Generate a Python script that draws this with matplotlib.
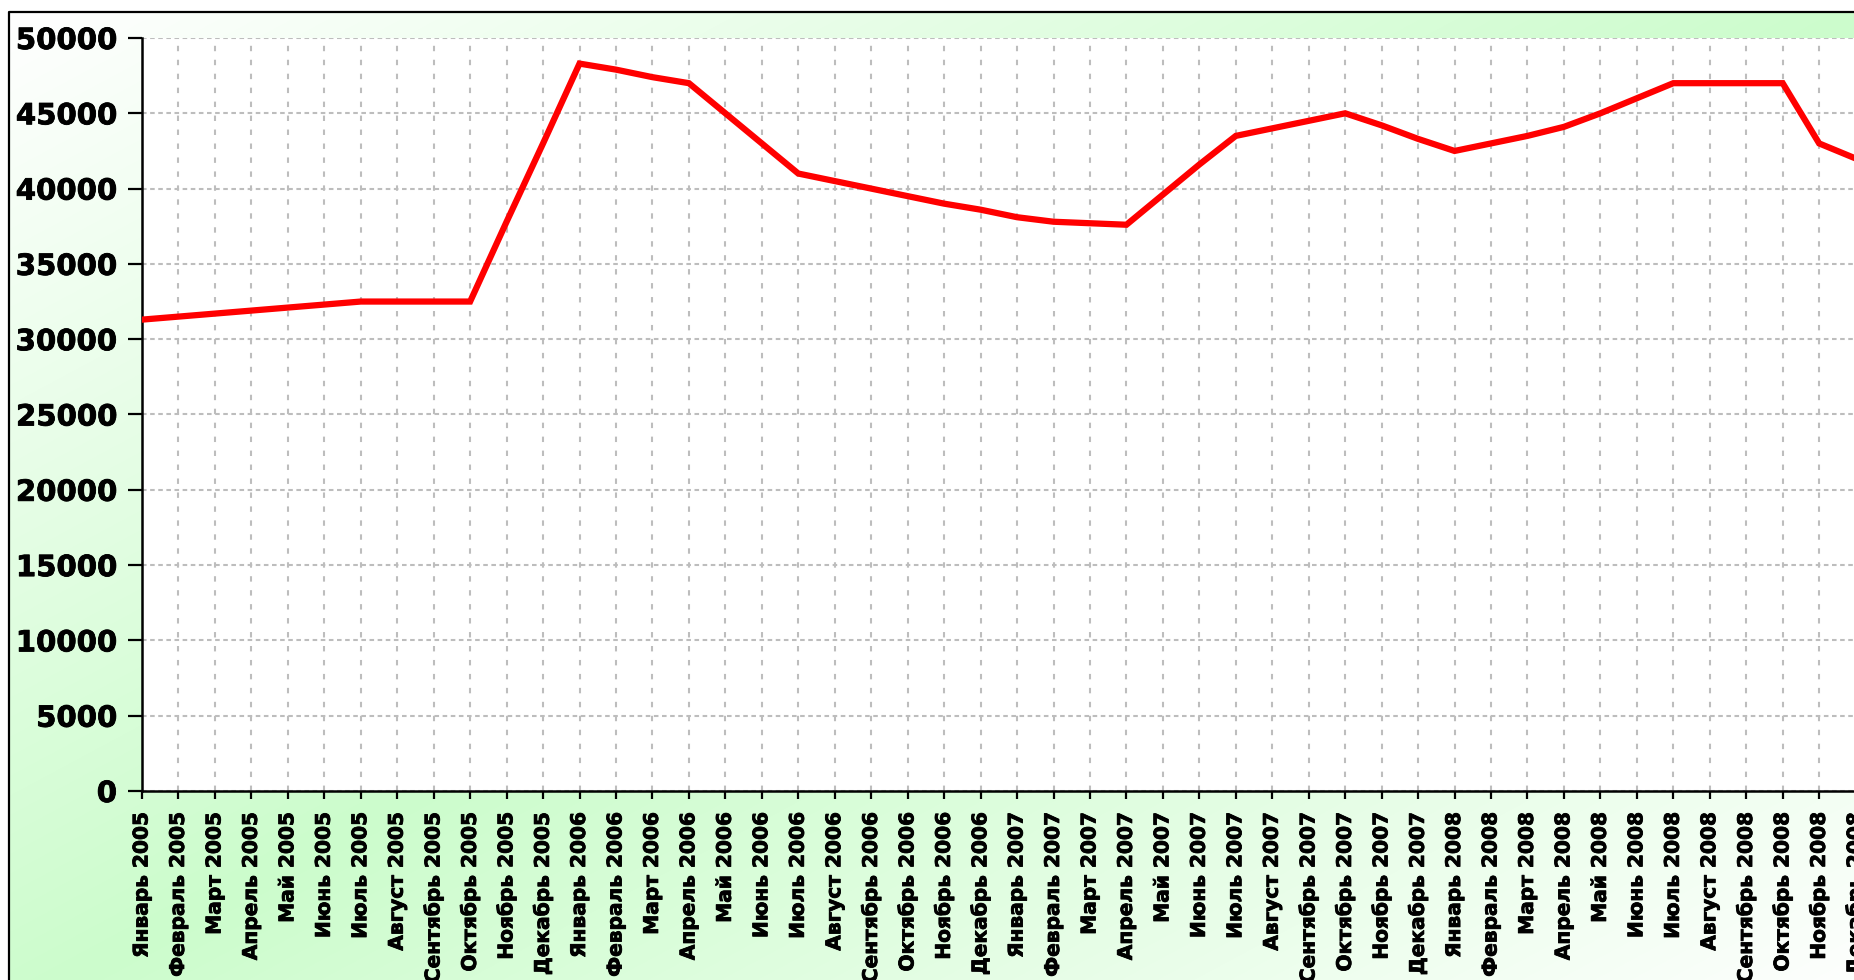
import matplotlib.pyplot as plt
import matplotlib.patheffects as pe
import numpy as np

months = ["Январь", "Февраль", "Март", "Апрель", "Май", "Июнь",
          "Июль", "Август", "Сентябрь", "Октябрь", "Ноябрь", "Декабрь"]
years = [2005, 2006, 2007, 2008]
labels = [f"{m} {y}" for y in years for m in months]

values_2005 = [31300, 31500, 31700, 31900, 32100, 32300,
               32500, 32500, 32500, 32500, 37800, 43000]
values_2006 = [48300, 47900, 47400, 47000, 45000, 43000,
               41000, 40500, 40000, 39500, 39000, 38600]
values_2007 = [38100, 37800, 37700, 37600, 39600, 41600,
               43500, 44000, 44500, 45000, 44200, 43300]
values_2008 = [42500, 43000, 43500, 44100, 45000, 46000,
               47000, 47000, 47000, 47000, 43000, 42000]
values = values_2005 + values_2006 + values_2007 + values_2008

W, H = 1854, 980
fig = plt.figure(figsize=(W / 100, H / 100), dpi=100)
fig.patch.set_facecolor("white")

# background: diagonal green gradient inside a black frame
bg = fig.add_axes([0, 0, 1, 1], zorder=-1)
bg.set_xlim(0, W)
bg.set_ylim(H, 0)
bg.axis("off")
fx0, fy0 = 9.5, 12
fw, fh = 1860, 1000
gx = np.linspace(0, 1, 400)
gy = np.linspace(0, 1, 200)
u, v = np.meshgrid(gx, gy)
f = np.clip(1 - np.abs(u + v - 1), 0, 1)
green = np.array([0.80, 0.99, 0.80])
img = 1 - f[..., None] * (1 - green)
bg.imshow(img, extent=(fx0, fx0 + fw, fy0 + fh, fy0), aspect="auto",
          interpolation="bilinear")
bg.plot([fx0, fx0, W + 10], [H + 10, fy0, fy0], color="black", lw=1.6)

ax = fig.add_axes([142 / W, 1 - 791 / H, 48 * 36.46 / W, (791 - 38) / H])
ax.set_facecolor("white")
x = np.arange(len(values))
ax.plot(x, values, color="red", lw=4.5, solid_joinstyle="miter", zorder=3)

ax.set_xlim(0, 48)
ax.set_ylim(0, 50000)
ax.set_yticks(range(0, 50001, 5000))
ax.set_xticks(x)
ax.set_xticklabels(labels, rotation=90, fontsize=14.5, fontweight="bold")
for t in ax.get_yticklabels():
    t.set_fontsize(21)
    t.set_fontweight("bold")
# slightly heavier glyphs, like the original Verdana Bold
heavy = [pe.withStroke(linewidth=0.6, foreground="black")]
for t in ax.get_xticklabels() + ax.get_yticklabels():
    t.set_path_effects(heavy)

ax.yaxis.grid(True, color="#bdbdbd", linestyle=(0, (2.2, 1.7)), lw=1.5)
ax.xaxis.grid(True, color="#bdbdbd", linestyle=(0, (2.6, 4.1)), lw=1.5)
ax.set_axisbelow(True)
ax.tick_params(axis="y", length=10, width=1.6, color="black", pad=8)
ax.tick_params(axis="x", length=6, width=1.6, color="black", pad=9)
for s in ["top", "right"]:
    ax.spines[s].set_visible(False)
for s in ["left", "bottom"]:
    ax.spines[s].set_linewidth(1.8)

plt.savefig("out.png", dpi=100)
